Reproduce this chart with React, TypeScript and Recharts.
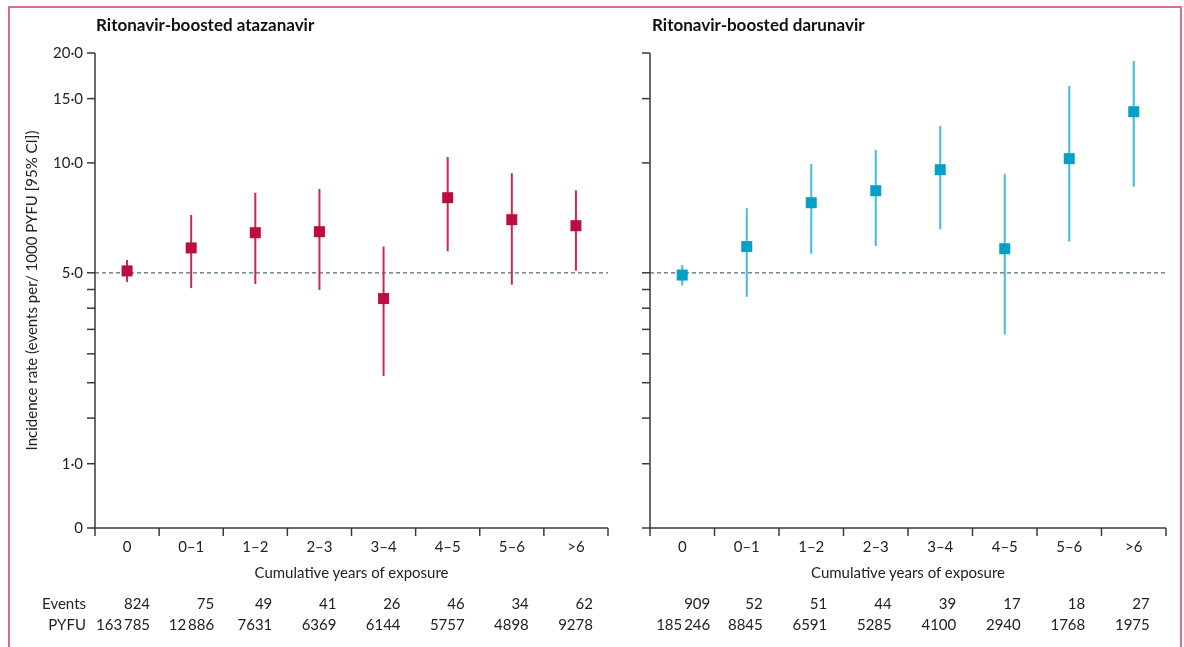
import React from 'react';
import { ComposedChart, Line, XAxis, YAxis, ReferenceLine, ErrorBar } from 'recharts';

const categories = ['0', '0–1', '1–2', '2–3', '3–4', '4–5', '5–6', '>6'];

// ritonavir-boosted atazanavir
const atvRate = [5.06, 5.85, 6.44, 6.48, 4.25, 8.03, 6.99, 6.73];
const atvLower = [4.72, 4.54, 4.66, 4.49, 2.61, 5.73, 4.64, 5.07];
const atvUpper = [5.42, 7.2, 8.29, 8.48, 5.9, 10.38, 9.37, 8.41];
const atvEvents = [824, 75, 49, 41, 26, 46, 34, 62];
const atvPyfu = [163785, 12886, 7631, 6369, 6144, 5757, 4898, 9278];

// ritonavir-boosted darunavir
const drvRate = [4.93, 5.9, 7.78, 8.39, 9.58, 5.82, 10.27, 13.81];
const drvLower = [4.62, 4.3, 5.64, 5.92, 6.58, 3.39, 6.09, 8.61];
const drvUpper = [5.25, 7.52, 9.93, 10.85, 12.62, 9.34, 16.24, 19.02];
const drvEvents = [909, 52, 51, 44, 39, 17, 18, 27];
const drvPyfu = [185246, 8845, 6591, 5285, 4100, 2940, 1768, 1975];

const yTicks = [1, 1.5, 2, 2.5, 3, 3.5, 4, 4.5, 5, 10, 15, 20];
const yTickLabels: Record<number, string> = {
  1: '0',
  1.5: '1·0',
  5: '5·0',
  10: '10·0',
  15: '15·0',
  20: '20·0',
};

const FONT = 'Lato, "Open Sans", sans-serif';
const TEXT = '#222';
const AXIS = '#3a3a3a';
const FS = 15;

function buildRows(rate: number[], lower: number[], upper: number[], events: number[], pyfu: number[]) {
  return categories.map((cat, i) => ({
    cat,
    rate: rate[i],
    err: [rate[i] - lower[i], upper[i] - rate[i]],
    events: events[i],
    pyfu: pyfu[i],
  }));
}

const fmt = (n: number) =>
  n >= 10000 ? String(n).replace(/(\d)(?=(\d{3})+$)/g, '$1\u2009') : String(n);

function SquareDot(props: any) {
  const { cx, cy, fill } = props;
  if (cx == null || cy == null) return null;
  return <rect x={cx - 5.5} y={cy - 5.5} width={11} height={11} fill={fill} />;
}

function CategoryTick(props: any) {
  const { x, y, payload, index, rows, rowLabels, dxFor } = props;
  const half = payload && payload.offset ? payload.offset : 32;
  const row = rows[index];
  const dx = dxFor(index);
  return (
    <g>
      {index === 0 && (
        <line x1={x - half} y1={y} x2={x - half} y2={y + 8} stroke={AXIS} strokeWidth={1.5} />
      )}
      <line x1={x + half} y1={y} x2={x + half} y2={y + 8} stroke={AXIS} strokeWidth={1.5} />
      <text x={x} y={y + 24} textAnchor="middle" fill={TEXT} fontSize={FS}>
        {payload.value}
      </text>
      <text x={x + dx} y={y + 81} textAnchor="end" fill={TEXT} fontSize={FS}>
        {fmt(row.events)}
      </text>
      <text x={x + dx} y={y + 102} textAnchor="end" fill={TEXT} fontSize={FS}>
        {fmt(row.pyfu)}
      </text>
      {rowLabels && index === 0 && (
        <>
          <text x={x - half - 9} y={y + 81} textAnchor="end" fill={TEXT} fontSize={FS}>
            Events
          </text>
          <text x={x - half - 9} y={y + 102} textAnchor="end" fill={TEXT} fontSize={FS}>
            PYFU
          </text>
        </>
      )}
    </g>
  );
}

function XTitle(props: any) {
  const vb = props.viewBox || {};
  return (
    <text x={vb.x + vb.width / 2} y={vb.y + 50} textAnchor="middle" fill={TEXT} fontSize={FS}>
      Cumulative years of exposure
    </text>
  );
}

function YTitle(props: any) {
  const vb = props.viewBox || {};
  const cx = vb.x + 28.5;
  const cy = vb.y + vb.height / 2;
  return (
    <text
      x={cx}
      y={cy}
      transform={`rotate(-90, ${cx}, ${cy})`}
      textAnchor="middle"
      fill={TEXT}
      fontSize={FS}
    >
      Incidence rate (events per/ 1000 PYFU [95% CI])
    </text>
  );
}

type PanelProps = {
  rows: ReturnType<typeof buildRows>;
  width: number;
  yAxisWidth: number;
  marginRight: number;
  marker: string;
  whisker: string;
  showLabels: boolean;
  dxFor: (i: number) => number;
};

function Panel({ rows, width, yAxisWidth, marginRight, marker, whisker, showLabels, dxFor }: PanelProps) {
  return (
    <ComposedChart
      width={width}
      height={630}
      data={rows}
      margin={{ top: 45, right: marginRight, bottom: 0, left: 0 }}
    >
      <XAxis
        dataKey="cat"
        type="category"
        scale="band"
        interval={0}
        height={110}
        tickSize={0}
        tickMargin={0}
        tickLine={false}
        axisLine={{ stroke: AXIS, strokeWidth: 1.5 }}
        tick={(p: any) => (
          <CategoryTick {...p} rows={rows} rowLabels={showLabels} dxFor={dxFor} />
        )}
        label={<XTitle />}
      />
      <YAxis
        type="number"
        scale="log"
        domain={[1, 20]}
        allowDataOverflow
        ticks={yTicks}
        interval={0}
        width={yAxisWidth}
        tickSize={8}
        tickMargin={4}
        tickLine={{ stroke: AXIS, strokeWidth: 1.5 }}
        axisLine={{ stroke: AXIS, strokeWidth: 1.5 }}
        tick={{ fill: TEXT, fontSize: FS }}
        tickFormatter={(v: number) => (showLabels ? yTickLabels[v] || '' : '')}
        label={showLabels ? <YTitle /> : undefined}
      />
      <ReferenceLine y={5} stroke="#4d6b80" strokeDasharray="4 3" strokeWidth={1.2} />
      <Line
        dataKey="rate"
        stroke="none"
        fill={marker}
        dot={<SquareDot fill={marker} />}
        activeDot={false}
        legendType="none"
        isAnimationActive={false}
      >
        <ErrorBar
          dataKey="err"
          width={0}
          stroke={whisker}
          strokeWidth={2}
          direction="y"
          isAnimationActive={false}
        />
      </Line>
    </ComposedChart>
  );
}

const atvRows = buildRows(atvRate, atvLower, atvUpper, atvEvents, atvPyfu);
const drvRows = buildRows(drvRate, drvLower, drvUpper, drvEvents, drvPyfu);

const titleStyle: React.CSSProperties = {
  position: 'absolute',
  top: 9,
  fontWeight: 700,
  fontSize: 17,
  lineHeight: '16px',
  color: '#111',
  whiteSpace: 'nowrap',
};

export default function App() {
  return (
    <div style={{ position: 'relative', width: 1176, height: 630, fontFamily: FONT }}>
      {/* page frame, drawn in page coordinates */}
      <svg
        width={1184}
        height={647}
        style={{ position: 'fixed', left: 0, top: 0, pointerEvents: 'none' }}
      >
        <path d="M 9 647 V 7 H 1181 V 647" fill="none" stroke="#dc6a8c" strokeWidth={2} />
      </svg>
      <div style={{ position: 'absolute', left: 0, top: 0 }}>
        <Panel
          rows={atvRows}
          width={620}
          yAxisWidth={87}
          marginRight={20}
          marker="#bb0e3e"
          whisker="#c7294f"
          showLabels
          dxFor={(i) => (i < 2 ? 23 : 17)}
        />
      </div>
      <div style={{ position: 'absolute', left: 620, top: 0 }}>
        <Panel
          rows={drvRows}
          width={554}
          yAxisWidth={22}
          marginRight={16}
          marker="#06a0c6"
          whisker="#3fbddc"
          showLabels={false}
          dxFor={(i) => (i < 1 ? 28 : 16)}
        />
      </div>
      <div style={{ ...titleStyle, left: 88 }}>Ritonavir-boosted atazanavir</div>
      <div style={{ ...titleStyle, left: 644 }}>Ritonavir-boosted darunavir</div>
    </div>
  );
}
